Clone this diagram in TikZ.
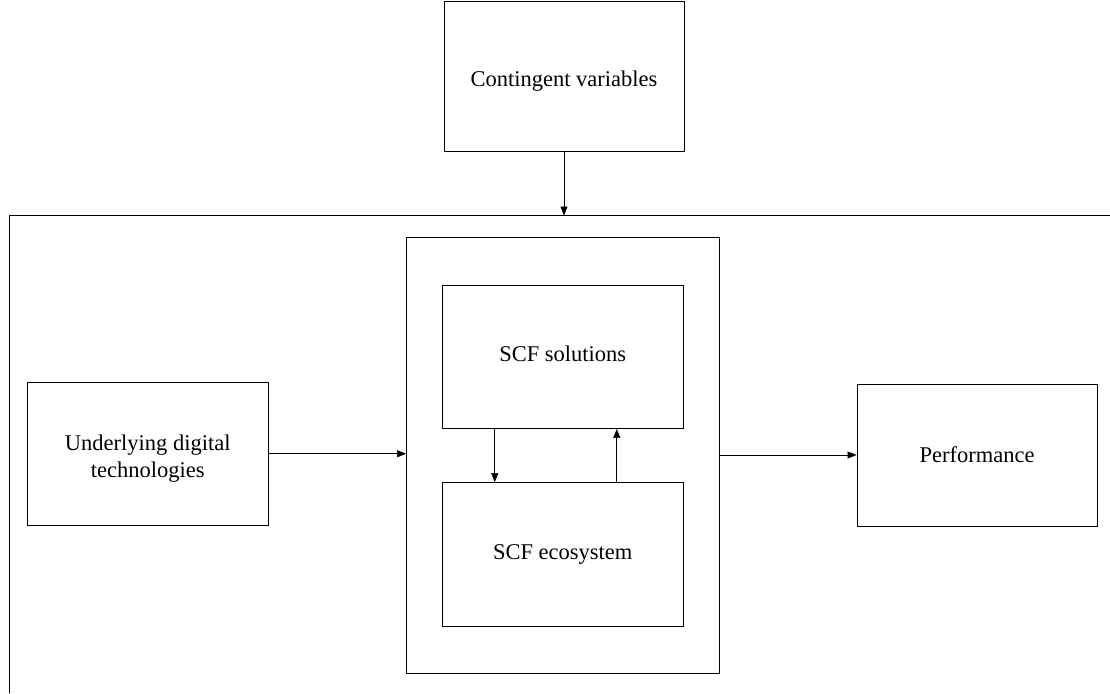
\documentclass[tikz,border=0pt]{standalone}
\usepackage{fontspec}
\setmainfont{Liberation Serif}
\usepackage{tikz}
\usetikzlibrary{arrows.meta}

\tikzset{
  box/.style={draw,line width=0.9pt,align=center,inner sep=0pt},
  flow/.style={line width=0.6pt,-{Triangle[length=9pt,width=7pt]}}
}
\newcommand{\nudge}[2]{\raisebox{#1}[\height][\depth]{#2}}

\begin{document}
\begin{tikzpicture}[x=1pt,y=-1pt,font=\fontsize{22.5}{27}\selectfont]
    \useasboundingbox (0,0) rectangle (1110,693);
    % outer frame, open on the right and at the bottom
    \draw[line width=0.9pt] (9,693) -- (9,215.5) -- (1110,215.5);
    \coordinate (frametop) at (564,215.5);
    \node[box,minimum width=240pt,minimum height=150pt] (cont) at (564,76) {\nudge{-5pt}{Contingent variables}};
    \node[box,minimum width=312.5pt,minimum height=436pt] (mid) at (562.75,455) {};
    \node[box,minimum width=241.5pt,minimum height=143.5pt] (sol) at (562.75,356.75) {\nudge{3pt}{SCF solutions}};
    \node[box,minimum width=241.5pt,minimum height=144pt] (eco) at (562.75,554.5) {SCF ecosystem};
    \node[box,minimum width=241.5pt,minimum height=143.5pt] (und) at (147.75,453.75)
      {\nudge{-5pt}{\begin{tabular}{@{}c@{}}Underlying digital\\technologies\end{tabular}}};
    \node[box,minimum width=240pt,minimum height=142pt] (perf) at (977,455) {Performance};
    \draw[flow] (cont.south) -- (frametop);
    \draw[flow] (und.east) -- (und.east -| mid.west);
    \draw[flow] (mid.east) -- (mid.east -| perf.west);
    \draw[flow] ([xshift=-68pt]sol.south) -- ([xshift=-68pt]eco.north);
    \draw[flow] ([xshift=54pt]eco.north) -- ([xshift=54pt]sol.south);
\end{tikzpicture}
\end{document}
